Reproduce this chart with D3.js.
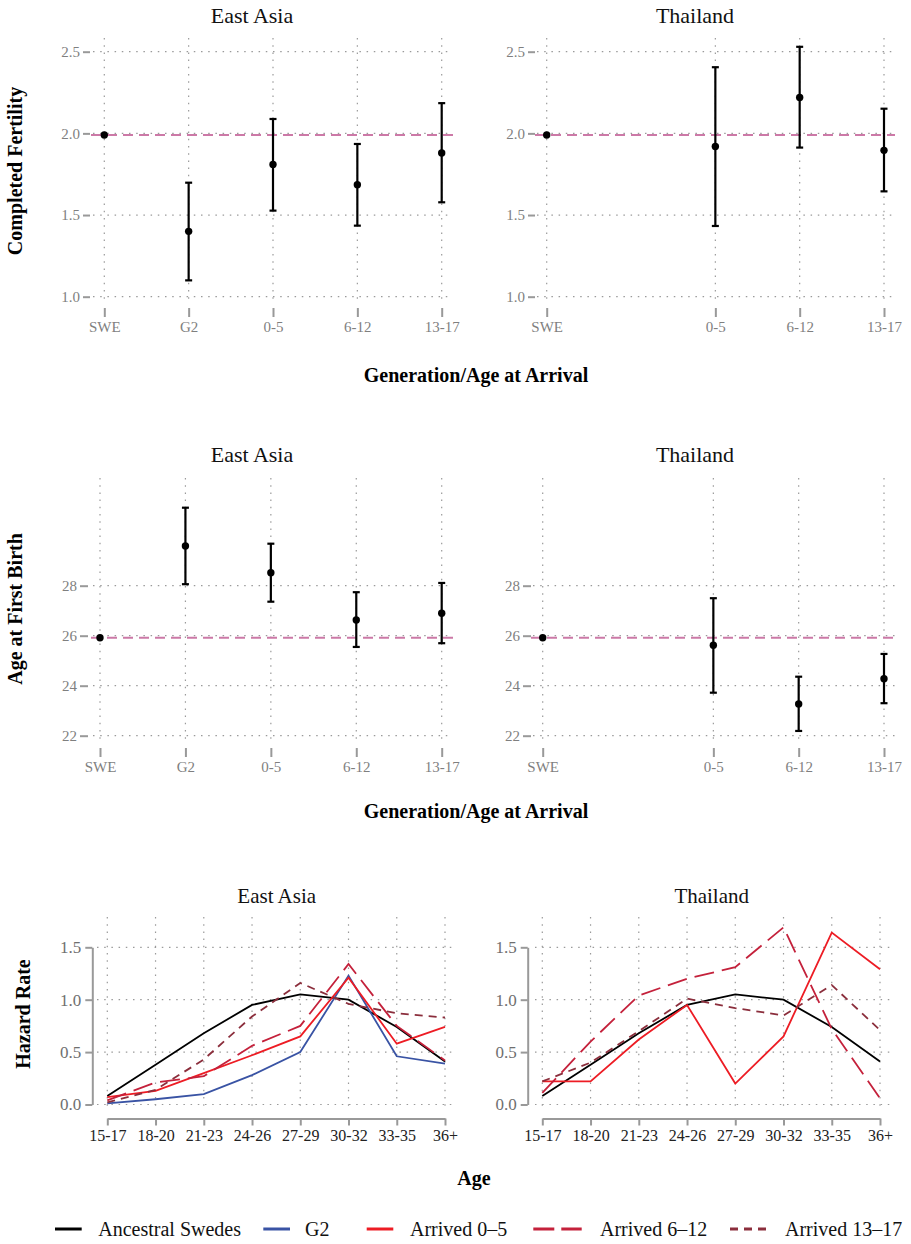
<!DOCTYPE html>
<html>
<head>
<meta charset="utf-8">
<script src="https://cdn.jsdelivr.net/npm/d3@7"></script>
<style>
body { margin: 0; background: #fff; }
text { font-family: "Liberation Serif", "DejaVu Serif", serif; }
</style>
</head>
<body>
<script>
// values
var generations = ["SWE", "G2", "0-5", "6-12", "13-17"];

var swedeFertility = 1.99;
var fertEastAsia = [1.99, 1.40, 1.81, 1.685, 1.88];
var fertEastAsiaLow = [null, 1.10, 1.527, 1.435, 1.578];
var fertEastAsiaHigh = [null, 1.698, 2.088, 1.935, 2.185];
var fertThailand = [1.99, null, 1.92, 2.22, 1.896];
var fertThailandLow = [null, null, 1.433, 1.913, 1.645];
var fertThailandHigh = [null, null, 2.405, 2.53, 2.151];
var fertTicks = [1.0, 1.5, 2.0, 2.5];

var swedeAfb = 25.92;
var afbEastAsia = [25.92, 29.59, 28.52, 26.63, 26.90];
var afbEastAsiaLow = [null, 28.06, 27.36, 25.55, 25.70];
var afbEastAsiaHigh = [null, 31.12, 29.68, 27.74, 28.11];
var afbThailand = [25.92, null, 25.62, 23.27, 24.28];
var afbThailandLow = [null, null, 23.72, 22.19, 23.30];
var afbThailandHigh = [null, null, 27.50, 24.36, 25.27];
var afbTicks = [22, 24, 26, 28];

var ageGroups = ["15-17", "18-20", "21-23", "24-26", "27-29", "30-32", "33-35", "36+"];
var hazardTicks = [0.0, 0.5, 1.0, 1.5];
var hazAncestral = [0.08, 0.38, 0.68, 0.95, 1.05, 1.00, 0.74, 0.41];
var hazEastAsiaG2 = [0.01, 0.05, 0.10, 0.28, 0.50, 1.23, 0.46, 0.39];
var hazEastAsia05 = [0.07, 0.13, 0.30, 0.47, 0.65, 1.21, 0.58, 0.74];
var hazEastAsia612 = [0.04, 0.21, 0.27, 0.56, 0.75, 1.34, 0.75, 0.42];
var hazEastAsia1317 = [0.02, 0.14, 0.43, 0.84, 1.16, 0.96, 0.87, 0.83];
var hazThailand05 = [0.22, 0.22, 0.62, 0.95, 0.20, 0.65, 1.64, 1.29];
var hazThailand612 = [0.11, 0.60, 1.04, 1.20, 1.31, 1.69, 0.72, 0.06];
var hazThailand1317 = [0.22, 0.40, 0.70, 1.01, 0.92, 0.85, 1.14, 0.71];

var seriesNames = ["Ancestral Swedes", "G2", "Arrived 0\u20135", "Arrived 6\u201312", "Arrived 13\u201317"];
var seriesColors = ["#000000", "#3953a4", "#ed1c24", "#c4213b", "#8b2e3c"];
var seriesDash = [null, null, null, "20,8", "8,6"];

var width = 911, height = 1244;
var gridColor = "#9a9a9a", tickColor = "#999999", refColor = "#cc79a7";

var svg = d3.select("body").append("svg")
    .attr("width", width)
    .attr("height", height);
svg.append("rect").attr("width", width).attr("height", height).attr("fill", "#fff");

function styleAxis(g, size, color) {
    g.select(".domain").remove();
    g.selectAll(".tick line").attr("stroke", tickColor).attr("stroke-width", 2);
    g.selectAll(".tick text").attr("font-size", size).attr("fill", color)
        .attr("font-family", "Liberation Serif, serif");
}

// point + error bar panel
function dotPanel(c) {
    var x = d3.scaleLinear().domain([0, 4]).range(c.xRange);
    var y = d3.scaleLinear().domain([c.yTicks[0], c.yTicks[c.yTicks.length - 1]]).range(c.yRange);
    var shown = d3.range(5).filter(i => c.est[i] != null);
    var g = svg.append("g");

    // grid
    g.selectAll(".hg").data(c.yTicks).join("line")
        .attr("x1", c.gridX[0]).attr("x2", c.gridX[1])
        .attr("y1", d => y(d)).attr("y2", d => y(d))
        .attr("stroke", gridColor).attr("stroke-width", 1.2).attr("stroke-dasharray", "1.5,5.7");
    g.selectAll(".vg").data(shown).join("line")
        .attr("x1", d => x(d)).attr("x2", d => x(d))
        .attr("y1", c.gridY[0]).attr("y2", c.gridY[1])
        .attr("stroke", gridColor).attr("stroke-width", 1.2).attr("stroke-dasharray", "1.5,5.7");

    // axes
    g.append("g").attr("transform", `translate(${c.yAxisX},0)`)
        .call(d3.axisLeft(y).tickValues(c.yTicks).tickFormat(c.fmt).tickSize(c.tick).tickPadding(3))
        .call(a => styleAxis(a, 15, "#7f7f7f"));
    g.append("g").attr("transform", `translate(0,${c.xAxisY})`)
        .call(d3.axisBottom(x).tickValues(shown).tickFormat(i => generations[i]).tickSize(9).tickPadding(4))
        .call(a => styleAxis(a, 15, "#7f7f7f"));

    // reference line
    g.append("line")
        .attr("x1", c.gridX[0] - 2).attr("x2", c.gridX[1] + 2)
        .attr("y1", y(c.ref)).attr("y2", y(c.ref))
        .attr("stroke", refColor).attr("stroke-width", 2).attr("stroke-dasharray", "10,6");

    // error bars
    var bars = shown.filter(i => c.low[i] != null);
    g.selectAll(".eb").data(bars).join("line")
        .attr("x1", d => x(d)).attr("x2", d => x(d))
        .attr("y1", d => y(c.low[d])).attr("y2", d => y(c.high[d]))
        .attr("stroke", "#000").attr("stroke-width", 2.2);
    ["low", "high"].forEach(k => {
        g.selectAll(".cap-" + k).data(bars).join("line")
            .attr("x1", d => x(d) - 3.5).attr("x2", d => x(d) + 3.5)
            .attr("y1", d => y(c[k][d])).attr("y2", d => y(c[k][d]))
            .attr("stroke", "#000").attr("stroke-width", 2.2);
    });
    g.selectAll(".pt").data(shown).join("circle")
        .attr("cx", d => x(d)).attr("cy", d => y(c.est[d]))
        .attr("r", 3.7).attr("fill", "#000");

    svg.append("text").attr("x", c.titleX).attr("y", c.titleY)
        .attr("text-anchor", "middle").attr("font-size", 22).attr("fill", "#111")
        .text(c.title);
}

// hazard line panel
function hazardPanel(c) {
    var x = d3.scalePoint().domain(ageGroups).range(c.xRange);
    var y = d3.scaleLinear().domain([0, 1.5]).range([1104.5, 947.3]);
    var g = svg.append("g");

    g.selectAll(".hg").data(hazardTicks).join("line")
        .attr("x1", c.gridX[0]).attr("x2", c.gridX[1])
        .attr("y1", d => y(d)).attr("y2", d => y(d))
        .attr("stroke", gridColor).attr("stroke-width", 1.2).attr("stroke-dasharray", "1.5,5.7");
    g.selectAll(".vg").data(ageGroups).join("line")
        .attr("x1", d => x(d)).attr("x2", d => x(d))
        .attr("y1", 917).attr("y2", 1110)
        .attr("stroke", gridColor).attr("stroke-width", 1.2).attr("stroke-dasharray", "1.5,5.7");

    var ya = g.append("g").attr("transform", `translate(${c.yAxisX},0)`)
        .call(d3.axisLeft(y).tickValues(hazardTicks).tickFormat(d3.format(".1f")).tickSize(7).tickSizeOuter(0).tickPadding(4));
    ya.selectAll(".tick line").attr("stroke", tickColor).attr("stroke-width", 2);
    ya.select(".domain").attr("stroke", tickColor).attr("stroke-width", 2);
    ya.selectAll(".tick text").attr("font-size", 17).attr("fill", "#6f6f6f").attr("font-family", "Liberation Serif, serif");

    var xa = g.append("g").attr("transform", "translate(0,1118.5)")
        .call(d3.axisBottom(x).tickSize(7).tickSizeOuter(0).tickPadding(4));
    xa.selectAll(".tick line").attr("stroke", tickColor).attr("stroke-width", 2);
    xa.select(".domain").attr("stroke", tickColor).attr("stroke-width", 2);
    xa.selectAll(".tick text").attr("font-size", 16).attr("fill", "#222").attr("font-family", "Liberation Serif, serif");

    var line = d3.line()
        .x((d, i) => x(ageGroups[i]))
        .y(d => y(d));
    c.series.forEach((s, k) => {
        if (!s) return;
        g.append("path")
            .datum(s)
            .attr("fill", "none")
            .attr("stroke", seriesColors[k])
            .attr("stroke-width", 1.8)
            .attr("stroke-dasharray", seriesDash[k])
            .attr("d", line);
    });

    svg.append("text").attr("x", c.titleX).attr("y", 903)
        .attr("text-anchor", "middle").attr("font-size", 21).attr("fill", "#111")
        .text(c.title);
}

dotPanel({title: "East Asia", titleX: 252, titleY: 23, xRange: [104.3, 441.7], gridX: [93, 453], gridY: [38, 302],
    yTicks: fertTicks, yRange: [296.7, 51.7], fmt: d3.format(".1f"), yAxisX: 90, tick: 7, xAxisY: 308,
    est: fertEastAsia, low: fertEastAsiaLow, high: fertEastAsiaHigh, ref: swedeFertility});
dotPanel({title: "Thailand", titleX: 695, titleY: 23, xRange: [546.7, 884], gridX: [537, 893], gridY: [38, 302],
    yTicks: fertTicks, yRange: [296.7, 51.7], fmt: d3.format(".1f"), yAxisX: 535, tick: 7, xAxisY: 308,
    est: fertThailand, low: fertThailandLow, high: fertThailandHigh, ref: swedeFertility});

dotPanel({title: "East Asia", titleX: 252, titleY: 462, xRange: [100, 441.7], gridX: [93, 453], gridY: [478, 741],
    yTicks: afbTicks, yRange: [735.7, 585.7], fmt: d3.format("d"), yAxisX: 88, tick: 8, xAxisY: 748,
    est: afbEastAsia, low: afbEastAsiaLow, high: afbEastAsiaHigh, ref: swedeAfb});
dotPanel({title: "Thailand", titleX: 695, titleY: 462, xRange: [542.7, 884], gridX: [533, 896], gridY: [478, 741],
    yTicks: afbTicks, yRange: [735.7, 585.7], fmt: d3.format("d"), yAxisX: 531, tick: 8, xAxisY: 748,
    est: afbThailand, low: afbThailandLow, high: afbThailandHigh, ref: swedeAfb});

hazardPanel({title: "East Asia", titleX: 276.7, xRange: [107.3, 445], gridX: [97, 457], yAxisX: 92.3,
    series: [hazAncestral, hazEastAsiaG2, hazEastAsia05, hazEastAsia612, hazEastAsia1317]});
hazardPanel({title: "Thailand", titleX: 711.7, xRange: [542.3, 880], gridX: [535, 895], yAxisX: 527.7,
    series: [hazAncestral, null, hazThailand05, hazThailand612, hazThailand1317]});

// axis titles
function axisTitle(t, x, y, rot) {
    svg.append("text")
        .attr("transform", `translate(${x},${y})` + (rot ? " rotate(-90)" : ""))
        .attr("text-anchor", "middle").attr("dy", rot ? "0.35em" : null)
        .attr("font-size", 20).attr("font-weight", "bold").attr("fill", "#000")
        .text(t);
}
axisTitle("Completed Fertility", 15, 171, true);
axisTitle("Age at First Birth", 15, 609, true);
axisTitle("Hazard Rate", 23, 1014, true);
axisTitle("Generation/Age at Arrival", 476, 382, false);
axisTitle("Generation/Age at Arrival", 476, 818, false);
axisTitle("Age", 474, 1185, false);

// legend
var legendKeys = [[55, 81.7, 98.3], [263.3, 290, 305], [366.7, 393.3, 410], [533.3, 581.7, 600], [730, 770, 785]];
var legend = svg.append("g");
seriesNames.forEach((n, k) => {
    legend.append("line")
        .attr("x1", legendKeys[k][0]).attr("x2", legendKeys[k][1])
        .attr("y1", 1229).attr("y2", 1229)
        .attr("stroke", seriesColors[k]).attr("stroke-width", 3)
        .attr("stroke-dasharray", k === 3 ? "21,7" : k === 4 ? "8,6" : null);
    legend.append("text")
        .attr("x", legendKeys[k][2]).attr("y", 1236)
        .attr("font-size", 20).attr("fill", "#111")
        .text(n);
});
</script>
</body>
</html>
